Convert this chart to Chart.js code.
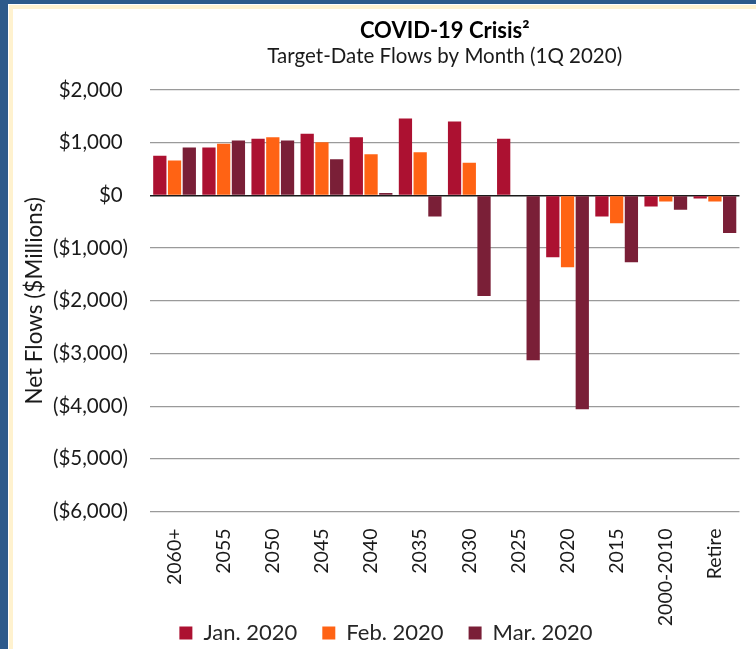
<!DOCTYPE html>
<html>
<head>
<meta charset="utf-8">
<script src="https://cdn.jsdelivr.net/npm/chart.js@4.4.0/dist/chart.umd.min.js"></script>
<style>
  html, body { margin: 0; padding: 0; }
  body { width: 756px; height: 649px; background: #2d5a8b; position: relative; overflow: hidden; }
  #frame { position: absolute; left: 8px; top: 4px; right: 0; bottom: 0; background: #fff; padding-left: 1px; padding-top: 1px; box-sizing: border-box; }
  #inner { width: 100%; height: 100%; border-left: 4px solid #fff2cf; border-top: 4px solid #fff2cf; box-sizing: border-box; position: relative; }
  #wrap { position: absolute; left: 0; top: 0; width: 743px; height: 640px; }
</style>
</head>
<body>
<div id="frame"><div id="inner"><div id="wrap"><canvas id="c" width="743" height="640"></canvas></div></div></div>
<script>
const categories = ['2060+', '2055', '2050', '2045', '2040', '2035', '2030', '2025', '2020', '2015', '2000-2010', 'Retire'];
const seriesNames = ['Jan. 2020', 'Feb. 2020', 'Mar. 2020'];
const jan2020 = [750, 910, 1075, 1170, 1105, 1460, 1400, 1075, -1175, -400, -210, -57];
const feb2020 = [660, 980, 1105, 1010, 780, 820, 620, 0, -1365, -527, -115, -115];
const mar2020 = [910, 1040, 1040, 686, 45, -400, -1910, -3130, -4060, -1270, -273, -716];
const yTicks = [2000, 1000, 0, -1000, -2000, -3000, -4000, -5000, -6000];
const titleText = 'COVID-19 Crisis\u00B2';
const subtitleText = 'Target-Date Flows by Month (1Q 2020)';
const yAxisTitle = 'Net Flows ($Millions)';

const colors = ['#ac1131', '#ff6314', '#7a1f37'];
const FONT = 'Lato';

function fmt(v) {
  const s = Math.abs(v).toLocaleString('en-US');
  return v < 0 ? '($' + s + ')' : '$' + s + ' ';
}

function build() {
  Chart.defaults.font.family = FONT;
  Chart.defaults.color = '#1f1f1f';
  new Chart(document.getElementById('c'), {
    type: 'bar',
    data: {
      labels: categories,
      datasets: [jan2020, feb2020, mar2020].map((d, i) => ({
        label: seriesNames[i],
        data: d,
        backgroundColor: colors[i],
        borderWidth: 0,
        barPercentage: 0.9,
        categoryPercentage: 0.9
      }))
    },
    options: {
      responsive: false,
      animation: false,
      layout: { padding: { left: 18, right: 15, top: 0, bottom: -5 } },
      plugins: {
        title: {
          display: true, text: titleText, fullSize: false, color: '#000',
          font: { size: 22, weight: 'bold' }, padding: { top: 8.8, bottom: 0 }
        },
        subtitle: {
          display: true, text: subtitleText, fullSize: false, color: '#1a1a1a',
          font: { size: 20.5 }, padding: { top: 0.2, bottom: 21 }
        },
        legend: {
          position: 'bottom',
          labels: { boxWidth: 13, boxHeight: 13, padding: 25, font: { size: 22 }, color: '#262626' }
        },
        tooltip: { enabled: false }
      },
      scales: {
        x: {
          grid: { display: false, drawTicks: false },
          border: { display: false },
          ticks: { autoSkip: false, maxRotation: 90, minRotation: 90, padding: 17, font: { size: 19.5 }, color: '#1a1a1a' },
          afterFit: s => {
            s.height = 85.5;
            s._computeLabelArea = function () {
              return { top: this.top, left: 0, bottom: this.chart.height, right: this.chart.width };
            };
          }
        },
        y: {
          min: -6000, max: 2000,
          afterBuildTicks: s => { s.ticks = yTicks.map(v => ({ value: v })); },
          ticks: { callback: v => fmt(v), padding: 22, font: { size: 20.5 }, color: '#1a1a1a' },
          grid: {
            drawTicks: false,
            color: ctx => (ctx.tick && ctx.tick.value === 0) ? '#1a1a1a' : '#9a9a9a',
            lineWidth: ctx => (ctx.tick && ctx.tick.value === 0) ? 1.5 : 1.2
          },
          border: { display: false },
          title: { display: true, text: yAxisTitle, font: { size: 22.5 }, color: '#1a1a1a', padding: { top: -9.5, bottom: 0 } },
          afterFit: s => { s.width = 119; }
        }
      }
    }
  });
}

if (document.fonts && document.fonts.load) {
  Promise.all([document.fonts.load('19px Lato'), document.fonts.load('bold 20px Lato')]).then(build, build);
} else {
  build();
}
</script>
</body>
</html>
